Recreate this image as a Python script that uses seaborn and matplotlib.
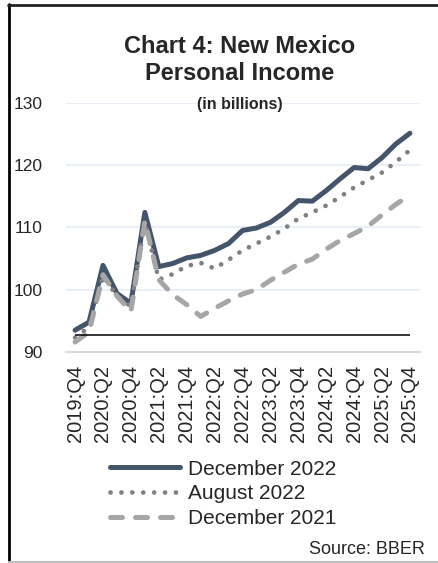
# -*- coding: utf-8 -*-
"""
Chart 4: New Mexico Personal Income (in billions)
- three forecast vintages, quarterly 2019:Q4 - 2025:Q4
"""

import pandas as pd
import seaborn as sns
import matplotlib.pyplot as plt
from matplotlib.lines import Line2D

# ------------------------------
# Data
# ------------------------------
quarters = [
    "2019:Q4", "2020:Q1", "2020:Q2", "2020:Q3", "2020:Q4",
    "2021:Q1", "2021:Q2", "2021:Q3", "2021:Q4",
    "2022:Q1", "2022:Q2", "2022:Q3", "2022:Q4",
    "2023:Q1", "2023:Q2", "2023:Q3", "2023:Q4",
    "2024:Q1", "2024:Q2", "2024:Q3", "2024:Q4",
    "2025:Q1", "2025:Q2", "2025:Q3", "2025:Q4",
]

dec_2022 = [93.5, 94.8, 103.9, 99.4, 97.8, 112.4, 103.7, 104.2, 105.1,
            105.5, 106.3, 107.4, 109.5, 109.9, 110.8, 112.4, 114.3,
            114.2, 115.9, 117.8, 119.6, 119.4, 121.2, 123.4, 125.1]

aug_2022 = [92.3, 94.0, 102.2, 99.0, 97.3, 111.0, 101.6, 102.5, 103.8,
            104.3, 103.4, 104.8, 106.3, 107.4, 108.5, 109.8, 111.4,
            112.4, 113.5, 114.9, 116.4, 117.6, 118.8, 120.5, 122.4]

dec_2021 = [91.6, 93.2, 102.4, 99.0, 96.5, 111.0, 101.6, 99.2, 97.6,
            95.7, 97.0, 98.2, 99.3, 100.0, 101.5, 102.8, 104.1,
            104.9, 106.5, 107.9, 109.0, 110.2, 112.0, 113.7, 115.2]

baseline_level = 92.8

series_labels = ["December 2022", "August 2022", "December 2021"]
y_ticks = [90, 100, 110, 120, 130]

# ------------------------------
# Plot
# ------------------------------
def main():
    sns.set_style("white")
    plt.rcParams["font.family"] = ["Liberation Sans", "DejaVu Sans"]

    df = pd.DataFrame({
        "idx": range(len(quarters)),
        series_labels[0]: dec_2022,
        series_labels[1]: aug_2022,
        series_labels[2]: dec_2021,
    })

    fig = plt.figure(figsize=(4.38, 5.63), dpi=100)
    ax = fig.add_axes([66 / 438, 1 - 352 / 563, (420 - 66) / 438, (352 - 102.7) / 563])

    # series styles
    sns.lineplot(data=df, x="idx", y=series_labels[0], ax=ax, color="#44546A",
                 linewidth=3.6, solid_capstyle="round", label=series_labels[0])
    ax.hlines(baseline_level, 0, len(quarters) - 1, color="black", linewidth=1.1, zorder=2.5)
    sns.lineplot(data=df, x="idx", y=series_labels[1], ax=ax, color="#808080",
                 linewidth=3.4, linestyle=(0, (0.01, 2.3)), dash_capstyle="round",
                 label=series_labels[1])
    sns.lineplot(data=df, x="idx", y=series_labels[2], ax=ax, color="#A6A6A6",
                 linewidth=3.6, linestyle=(0, (2.4, 2.6)), dash_capstyle="round",
                 label=series_labels[2])

    ax.set_xlim(-0.65, len(quarters) - 1 + 0.72)
    ax.set_ylim(90, 130)
    ax.set_yticks(y_ticks)
    ax.set_xticks(range(0, len(quarters), 2))
    ax.set_xticklabels(quarters[::2], rotation=90, fontsize=14.5)
    ax.tick_params(axis="y", length=0, pad=17, labelsize=12.5)
    ax.tick_params(axis="x", length=0, pad=9)
    ax.set_xlabel("")
    ax.set_ylabel("")

    ax.grid(axis="y", color="#E4ECF6", linewidth=1.2)
    ax.set_axisbelow(True)
    for side in ["left", "right", "top"]:
        ax.spines[side].set_visible(False)
    ax.spines["bottom"].set_color("#D9D9D9")
    ax.spines["bottom"].set_linewidth(1.5)

    # legend below the axis labels
    fs_px = 15 * 100 / 72
    ax.legend(loc="upper left", bbox_to_anchor=(110 / 438, 1 - 459.6 / 563),
              bbox_transform=fig.transFigure, frameon=False, fontsize=15,
              handlelength=70 / fs_px, handletextpad=8 / fs_px,
              labelspacing=0.27, borderpad=0, borderaxespad=0)

    # titles
    cx = 240 / 438
    fig.text(cx, 1 - 53 / 563, "Chart 4: New Mexico", ha="center", va="baseline",
             fontsize=17, fontweight="bold")
    fig.text(cx, 1 - 80 / 563, "Personal Income", ha="center", va="baseline",
             fontsize=17, fontweight="bold")
    fig.text(cx, 1 - 109 / 563, "(in billions)", ha="center", va="baseline",
             fontsize=11.5, fontweight="bold")
    fig.text(425 / 438, 1 - 554 / 563, "Source: BBER", ha="right", va="baseline",
             fontsize=13)

    # outer frame
    fig.add_artist(Line2D([9 / 438, 9 / 438], [0, 1 - 4 / 563], color="black",
                          linewidth=2.0, transform=fig.transFigure))
    fig.add_artist(Line2D([8 / 438, 1], [1 - 5 / 563, 1 - 5 / 563], color="#222222",
                          linewidth=2.0, transform=fig.transFigure))
    fig.add_artist(Line2D([9 / 438, 1], [1.5 / 563, 1.5 / 563], color="#BFBFBF",
                          linewidth=1.5, transform=fig.transFigure))

    fig.savefig("out.png", dpi=100)
    plt.close(fig)


if __name__ == "__main__":
    main()
